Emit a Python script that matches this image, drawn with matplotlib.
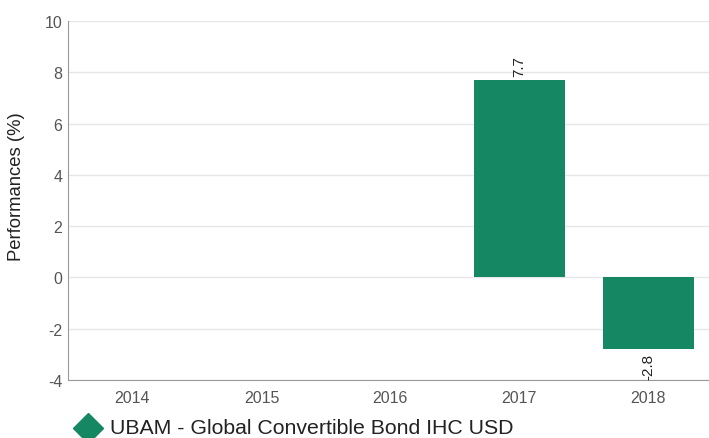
import matplotlib
matplotlib.use("Agg")
import matplotlib.pyplot as plt
from matplotlib.lines import Line2D

plt.rcParams['font.family'] = ['Liberation Sans', 'DejaVu Sans']
plt.rcParams['axes.unicode_minus'] = False

# data
years = ["2014", "2015", "2016", "2017", "2018"]
perf = [None, None, None, 7.7, -2.8]
series_name = "UBAM - Global Convertible Bond IHC USD"
bar_color = "#168763"

fig = plt.figure(figsize=(7.09, 4.39), dpi=100)
ax = fig.add_axes([68 / 709, 58 / 439, 641 / 709, 359 / 439])

xs = [i for i, v in enumerate(perf) if v is not None]
vals = [v for v in perf if v is not None]
ax.bar(xs, vals, width=0.7, color=bar_color, zorder=3)

for x, v in zip(xs, vals):
    if v >= 0:
        ax.text(x, v + 0.15, f"{v:.1f}", rotation=90, ha="center", va="bottom",
                fontsize=11, color="#222222")
    else:
        ax.text(x, v - 0.15, f"{v:.1f}", rotation=90, ha="center", va="top",
                fontsize=11, color="#222222")

ax.set_xlim(-0.5, 4.47)
ax.set_ylim(-4, 10)
ax.set_yticks(range(-4, 11, 2))
ax.set_xticks(range(len(years)))
ax.set_xticklabels(years)
ax.yaxis.grid(True, color="#e6e6e6", linewidth=1, zorder=0)
ax.set_axisbelow(True)
ax.tick_params(axis="both", length=0, labelsize=11.5, colors="#555555")
ax.tick_params(axis="x", pad=7)
ax.tick_params(axis="y", pad=4)
for s in ["top", "right"]:
    ax.spines[s].set_visible(False)
for s in ["left", "bottom"]:
    ax.spines[s].set_color("#999999")

fig.text(17 / 709, (439 - 187) / 439, "Performances (%)", rotation=90,
         fontsize=13.3, color="#222222", ha="center", va="center")

# legend drawn at the bottom of the figure
fig.add_artist(Line2D([88 / 709], [10 / 439], marker="D", markersize=15,
                      color=bar_color, linestyle="none", transform=fig.transFigure))
fig.text(110 / 709, 5 / 439, series_name, fontsize=15.3, color="#222222",
         va="baseline", ha="left")

fig.savefig("out.png", dpi=100)
